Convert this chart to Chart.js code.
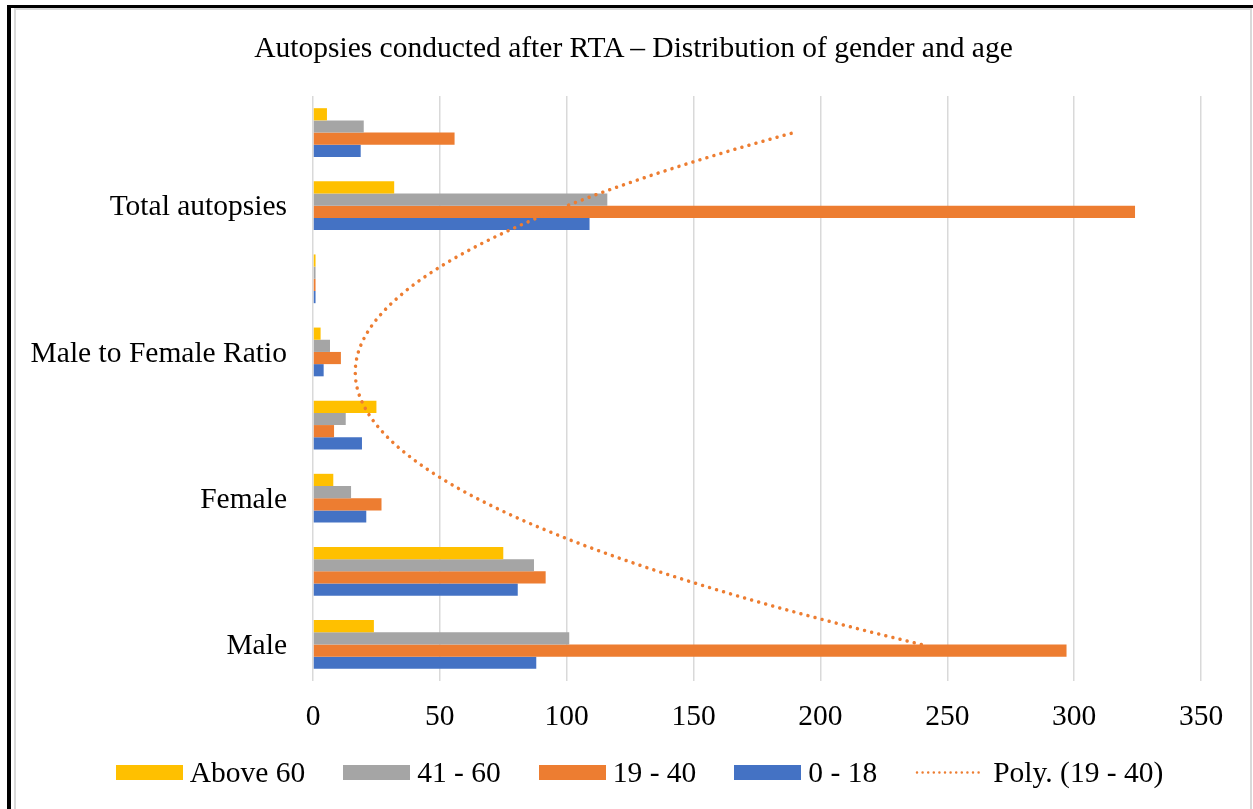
<!DOCTYPE html>
<html>
<head>
<meta charset="utf-8">
<script src="https://cdn.jsdelivr.net/npm/chart.js@4/dist/chart.umd.min.js"></script>
<style>
html,body{margin:0;padding:0;background:#fff;width:1253px;height:809px;overflow:hidden;position:relative;}
#frame{position:absolute;left:7px;top:5px;width:1300px;height:900px;border-left:4px solid #000;border-top:3px solid #000;}
#inner{position:absolute;left:14px;top:8px;width:1238px;height:900px;border:2px solid #d9d9d9;box-sizing:border-box;background:#fff;}
#c{position:absolute;left:14px;top:0;}
#title{position:absolute;left:14px;top:29px;width:1239px;text-align:center;font-family:"Liberation Serif","Times New Roman",serif;font-size:29.5px;line-height:36px;color:#000;white-space:nowrap;}
#legend{position:absolute;top:754px;left:14px;width:1239px;display:flex;justify-content:center;align-items:center;font-family:"Liberation Serif","Times New Roman",serif;font-size:29.5px;color:#000;line-height:36px;padding-left:12px;box-sizing:border-box;}
.item{display:flex;align-items:center;margin:0 19px;white-space:nowrap;}
.box{width:67px;height:15px;margin-right:7px;}
.dots{margin-right:8px;}
</style>
</head>
<body>
<div id="frame"></div>
<div id="inner"></div>
<canvas id="c" width="1239" height="809"></canvas>
<div id="title"></div>
<div id="legend"></div>
<script>
// ---- data ----
const chartTitle = 'Autopsies conducted after RTA – Distribution of gender and age';
const categories = ['Male', '', 'Female', '', 'Male to Female Ratio', '', 'Total autopsies', ''];
const seriesNames = ['Above 60', '41 - 60', '19 - 40', '0 - 18'];
const above60  = [24, 75.0, 8, 25.0, 3.0, 1, 32, 5.5];
const age41_60 = [101, 87.1, 15, 12.9, 6.7, 1, 116, 20.0];
const age19_40 = [297, 91.7, 27, 8.3, 11.0, 1, 324, 55.8];
const age0_18  = [88, 80.7, 21, 19.3, 4.2, 1, 109, 18.8];
const xTicks = [0, 50, 100, 150, 200, 250, 300, 350];
const trendName = 'Poly. (19 - 40)';
const colors = ['#FFC000', '#A5A5A5', '#ED7D31', '#4472C4'];

// ---- order-2 polynomial trendline (least squares on the 19 - 40 series, x = 1..n) ----
function polyFit2(ys) {
  let S = [0,0,0,0,0], T = [0,0,0];
  ys.forEach((y, i) => {
    const x = i + 1;
    for (let k = 0; k < 5; k++) S[k] += Math.pow(x, k);
    for (let k = 0; k < 3; k++) T[k] += Math.pow(x, k) * y;
  });
  const A = [[S[0],S[1],S[2],T[0]],[S[1],S[2],S[3],T[1]],[S[2],S[3],S[4],T[2]]];
  for (let i = 0; i < 3; i++) {
    let p = i;
    for (let r = i+1; r < 3; r++) if (Math.abs(A[r][i]) > Math.abs(A[p][i])) p = r;
    [A[i], A[p]] = [A[p], A[i]];
    for (let r = 0; r < 3; r++) {
      if (r === i) continue;
      const f = A[r][i] / A[i][i];
      for (let c = i; c < 4; c++) A[r][c] -= f * A[i][c];
    }
  }
  return [A[0][3]/A[0][0], A[1][3]/A[1][1], A[2][3]/A[2][2]];
}
const coef = polyFit2(age19_40);
const trendPoints = [];
for (let t = 0; t <= categories.length - 1 + 1e-9; t += 0.05) {
  const x = t + 1;
  trendPoints.push({x: coef[0] + coef[1]*x + coef[2]*x*x, y: t});
}

const FONT = '"Liberation Serif", "Times New Roman", serif';
const seriesData = [above60, age41_60, age19_40, age0_18];

document.getElementById('title').textContent = chartTitle;

const datasets = [];
seriesNames.forEach((name, i) => datasets.push({
  type: 'bar',
  label: name,
  data: seriesData[i],
  indexAxis: 'y',
  backgroundColor: colors[i],
  xAxisID: 'x',
  yAxisID: 'y',
  categoryPercentage: 2/3,
  barPercentage: 1,
  order: 1
}));
datasets.push({
  type: 'line',
  label: trendName,
  data: trendPoints,
  indexAxis: 'y',
  xAxisID: 'x',
  yAxisID: 'yt',
  borderColor: '#ED7D31',
  borderWidth: 3.5,
  borderDash: [0.01, 7.3],
  borderCapStyle: 'round',
  pointRadius: 0,
  fill: false,
  tension: 0,
  order: 0
});

new Chart(document.getElementById('c'), {
  type: 'bar',
  data: { labels: categories, datasets },
  options: {
    indexAxis: 'x',
    responsive: false,
    animation: false,
    layout: { padding: { top: 96, right: 52, bottom: 74, left: 0 } },
    plugins: {
      legend: { display: false },
      tooltip: { enabled: false },
      title: { display: false }
    },
    scales: {
      x: {
        type: 'linear',
        position: 'bottom',
        offset: false,
        min: 0, max: 350,
        afterBuildTicks: (s) => { s.ticks = xTicks.map(v => ({value: v})); },
        ticks: { color: '#000', font: { family: FONT, size: 29.5 }, padding: 19 },
        grid: { color: '#d9d9d9', lineWidth: 1.5, drawTicks: false, offset: false },
        border: { display: false },
        afterFit: (s) => { s.height = 54; }
      },
      y: {
        type: 'category',
        position: 'left',
        reverse: true,
        offset: true,
        ticks: { color: '#000', font: { family: FONT, size: 29.5 }, padding: 26, autoSkip: false, labelOffset: 2 },
        grid: { display: false, drawTicks: false },
        border: { display: false },
        afterFit: (s) => { s.width = 299; }
      },
      yt: {
        type: 'linear',
        position: 'left',
        display: false,
        offset: false,
        min: -0.5,
        max: categories.length - 0.5
      }
    }
  }
});

// ---- HTML legend ----
const legend = document.getElementById('legend');
seriesNames.forEach((name, i) => {
  const it = document.createElement('div'); it.className = 'item';
  const b = document.createElement('div'); b.className = 'box'; b.style.background = colors[i];
  const t = document.createElement('span'); t.textContent = name;
  it.appendChild(b); it.appendChild(t); legend.appendChild(it);
});
{
  const it = document.createElement('div'); it.className = 'item';
  const svgNS = 'http://www.w3.org/2000/svg';
  const svg = document.createElementNS(svgNS, 'svg');
  svg.setAttribute('width', '70'); svg.setAttribute('height', '15'); svg.setAttribute('class', 'dots');
  const ln = document.createElementNS(svgNS, 'line');
  ln.setAttribute('x1', '2'); ln.setAttribute('x2', '68'); ln.setAttribute('y1', '7.5'); ln.setAttribute('y2', '7.5');
  ln.setAttribute('stroke', '#ED7D31'); ln.setAttribute('stroke-width', '2.5');
  ln.setAttribute('stroke-linecap', 'round'); ln.setAttribute('stroke-dasharray', '0 5.6');
  svg.appendChild(ln);
  const t = document.createElement('span'); t.textContent = trendName;
  it.appendChild(svg); it.appendChild(t); legend.appendChild(it);
}
</script>
</body>
</html>
